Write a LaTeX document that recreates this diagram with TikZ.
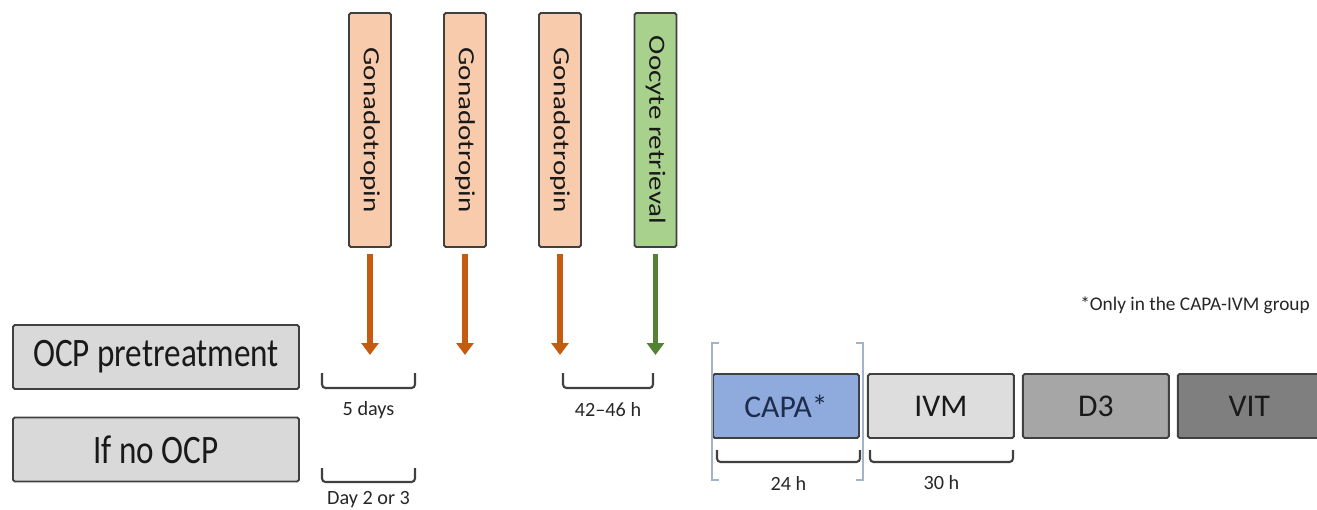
\documentclass[tikz,border=0pt]{standalone}
\usepackage{fontspec}
\setmainfont{Carlito}
\newfontfamily\widefont[FakeStretch=1.25]{Carlito}
\newfontfamily\narrowfont[FakeStretch=0.82]{Carlito}
\usetikzlibrary{arrows.meta,positioning}

\definecolor{gonfill}{HTML}{F8CBAD}
\definecolor{retfill}{HTML}{A9D18E}
\definecolor{gonarrow}{HTML}{C55A11}
\definecolor{retarrow}{HTML}{548235}
\definecolor{boxline}{HTML}{404040}
\definecolor{ocpfill}{HTML}{D9D9D9}
\definecolor{capafill}{HTML}{8FAADC}
\definecolor{ivmfill}{HTML}{DDDDDD}
\definecolor{dthreefill}{HTML}{A6A6A6}
\definecolor{vitfill}{HTML}{7F7F7F}
\definecolor{capatext}{HTML}{1F2D4D}
\definecolor{bracketblue}{HTML}{A3B3CC}

\tikzset{
  dosebox/.style={draw=boxline, line width=1.1pt, rounded corners=1pt,
    minimum width=0.84cm, minimum height=4.68cm, inner sep=0pt,
    font=\widefont\fontsize{13.2}{15}\selectfont, text=black!90},
  dosearrow/.style={line width=3.4pt, shorten <=0.12cm,
    -{Triangle[width=0.34cm,length=0.24cm]}},
  ocpbox/.style={draw=boxline, fill=ocpfill, line width=1.1pt, rounded corners=1pt,
    minimum width=5.72cm, minimum height=1.28cm, inner sep=0pt,
    font=\narrowfont\fontsize{23}{27}\selectfont, text=black!90},
  stage/.style={draw=boxline, line width=1.1pt, rounded corners=1pt,
    minimum width=2.92cm, minimum height=1.28cm, inner sep=0pt,
    font=\fontsize{18}{22}\selectfont, text=black!90},
  brk/.style={draw=black!75, line width=1.2pt, rounded corners=2pt},
  lbl/.style={font=\fontsize{11.5}{13}\selectfont, text=black!85}
}

\begin{document}
\begin{tikzpicture}[scale=1.0]
        \useasboundingbox (0,0) rectangle (26.34,10.18);

        % Gonadotropin / retrieval boxes
        \node[dosebox, fill=gonfill] (gon1) at (7.40,7.58) {\rotatebox{-90}{Gonadotropin}};
        \node[dosebox, fill=gonfill] (gon2) at (9.30,7.58) {\rotatebox{-90}{Gonadotropin}};
        \node[dosebox, fill=gonfill] (gon3) at (11.20,7.58) {\rotatebox{-90}{Gonadotropin}};
        \node[dosebox, fill=retfill] (ret) at (13.11,7.58) {\rotatebox{-90}{Oocyte retrieval}};

        % Arrow ends
        \coordinate (a1) at (7.40,3.08);
        \coordinate (a2) at (9.30,3.08);
        \coordinate (a3) at (11.20,3.08);
        \coordinate (a4) at (13.11,3.08);

        \draw[dosearrow, gonarrow] (gon1.south) -- (a1);
        \draw[dosearrow, gonarrow] (gon2.south) -- (a2);
        \draw[dosearrow, gonarrow] (gon3.south) -- (a3);
        \draw[dosearrow, retarrow] (ret.south) -- (a4);

        % Left boxes
        \node[ocpbox] (ocp) at (3.12,3.04) {OCP pretreatment};
        \node[ocpbox] (noocp) at (3.12,1.19) {If no OCP};

        % Brackets with durations
        \draw[brk] (6.44,2.72) |- (8.30,2.42) -- (8.30,2.72);
        \node[lbl] (days) at (7.37,1.98) {5 days};
        \draw[brk] (6.44,0.82) |- (8.30,0.54) -- (8.30,0.82);
        \node[lbl] (day23) at (7.37,0.18) {Day 2 or 3};
        \draw[brk] (11.26,2.72) |- (13.06,2.42) -- (13.06,2.72);
        \node[lbl] (hours) at (12.16,1.98) {42--46 h};

        % Culture stages
        \node[stage, fill=capafill, text=capatext] (capa) at (15.72,2.06) {CAPA*};
        \node[stage, fill=ivmfill, right=0.14cm of capa] (ivm) {IVM};
        \node[stage, fill=dthreefill, right=0.14cm of ivm] (dthree) {D3};
        \node[stage, fill=vitfill, minimum width=2.86cm, right=0.14cm of dthree] (vit) {VIT};

        \draw[brk] (14.34,1.18) |- (17.20,0.94) -- (17.20,1.18);
        \node[lbl] (capah) at (15.77,0.52) {24 h};
        \draw[brk] (17.40,1.18) |- (20.26,0.94) -- (20.26,1.18);
        \node[lbl] (ivmh) at (18.83,0.52) {30 h};

        % Blue square brackets round CAPA
        \draw[bracketblue, line width=0.8pt] (14.38,3.32) -- (14.24,3.32) -- (14.24,0.58) -- (14.38,0.58);
        \draw[bracketblue, line width=0.8pt] (17.12,3.32) -- (17.26,3.32) -- (17.26,0.58) -- (17.12,0.58);

        \node[anchor=east, font=\fontsize{11}{13}\selectfont, text=black!85] (note) at (26.32,4.08) {*Only in the CAPA-IVM group};
    \end{tikzpicture}
\end{document}
